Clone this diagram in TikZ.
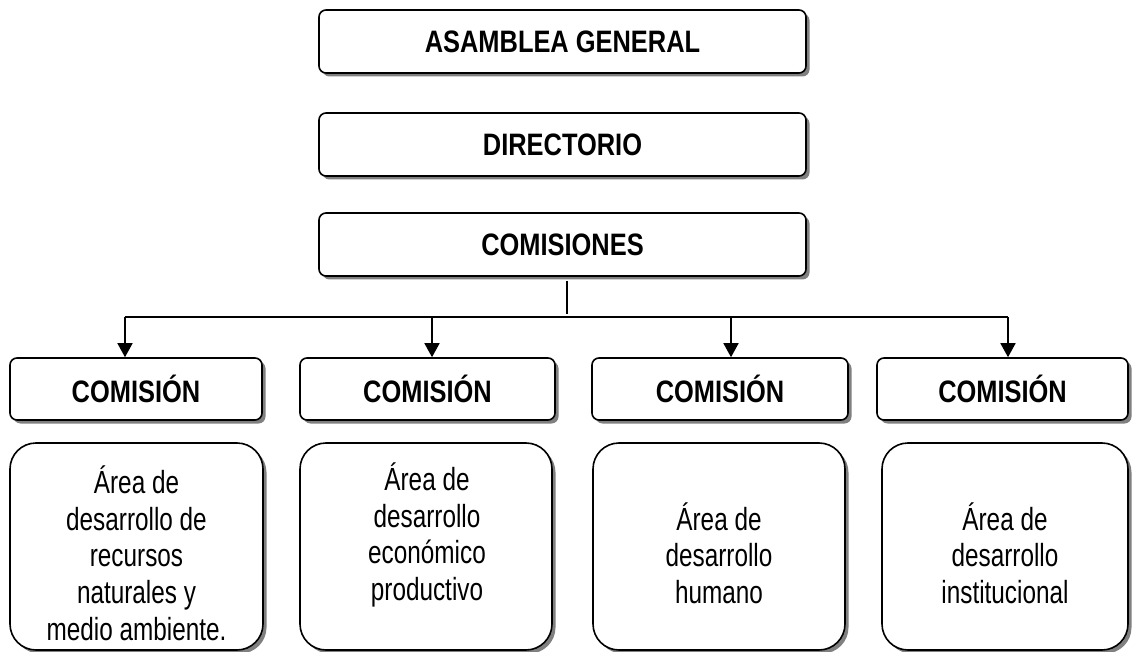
\documentclass[tikz,border=0pt]{standalone}
\usepackage{fontspec}
\setmainfont{Liberation Sans}[FakeStretch=0.82]
\newfontfamily\bodyfont{Liberation Sans}[FakeStretch=0.76]
\usetikzlibrary{arrows.meta,shadows}
\begin{document}
\begin{tikzpicture}[x=1pt,y=-1pt,
  box/.style={draw=black, line width=1.6pt, fill=white, rounded corners=7pt, inner sep=0pt,
    drop shadow={shadow xshift=3.5pt, shadow yshift=-3.5pt, fill=black!50, opacity=1}},
  bigbox/.style={box, rounded corners=26pt},
  title/.style={font=\fontsize{31}{36.7}\selectfont\bfseries},
  body/.style={font=\bodyfont\fontsize{32}{36.7}\selectfont, align=center, inner sep=0pt},
  conn/.style={line width=1.6pt},
  arr/.style={conn, -{Triangle[length=14pt,width=15pt]}}]
\useasboundingbox (0,0) rectangle (1132,652);

\node[box, minimum width=487pt, minimum height=63pt, title] (ag) at (562.5,41.5) {ASAMBLEA GENERAL};
\node[box, minimum width=487pt, minimum height=63pt, title] (dir) at (562.5,144.5) {DIRECTORIO};
\node[box, minimum width=487pt, minimum height=63pt, title] (com) at (562.5,244.5) {COMISIONES};

\node[box, minimum width=252pt, minimum height=62pt, title] (c1) at (136,389) {COMISIÓN};
\node[box, minimum width=255pt, minimum height=62pt, title] (c2) at (427.5,389) {COMISIÓN};
\node[box, minimum width=256pt, minimum height=62pt, title] (c3) at (720,389) {COMISIÓN};
\node[box, minimum width=251pt, minimum height=62pt, title] (c4) at (1002.5,389) {COMISIÓN};

\node[bigbox, minimum width=253pt, minimum height=207pt] (a1) at (136.5,546.5) {};
\node[bigbox, minimum width=252pt, minimum height=207pt] (a2) at (426,546.5) {};
\node[bigbox, minimum width=252pt, minimum height=207pt] (a3) at (719,546.5) {};
\node[bigbox, minimum width=246pt, minimum height=207pt] (a4) at (1005,546.5) {};

\node[body] (t1) at (136.5,553) {Área de\\desarrollo de\\recursos\\naturales y\\medio ambiente.};
\node[body] (t2) at (427,535) {Área de\\desarrollo\\económico\\productivo};
\node[body] (t3) at (719,553) {Área de\\desarrollo\\humano};
\node[body] (t4) at (1005,553) {Área de\\desarrollo\\institucional};

\coordinate (bus) at (567,317);
\coordinate (j1) at (125,317);
\coordinate (j2) at (432,317);
\coordinate (j3) at (731,317);
\coordinate (j4) at (1008,317);

\draw[conn] ([yshift=-4pt]com.south -| bus) -- ([yshift=3pt]bus);
\draw[conn] (j1) -- (j4);
\draw[arr] (j1) -- (j1 |- c1.north);
\draw[arr] (j2) -- (j2 |- c2.north);
\draw[arr] (j3) -- (j3 |- c3.north);
\draw[arr] (j4) -- (j4 |- c4.north);
\end{tikzpicture}
\end{document}
